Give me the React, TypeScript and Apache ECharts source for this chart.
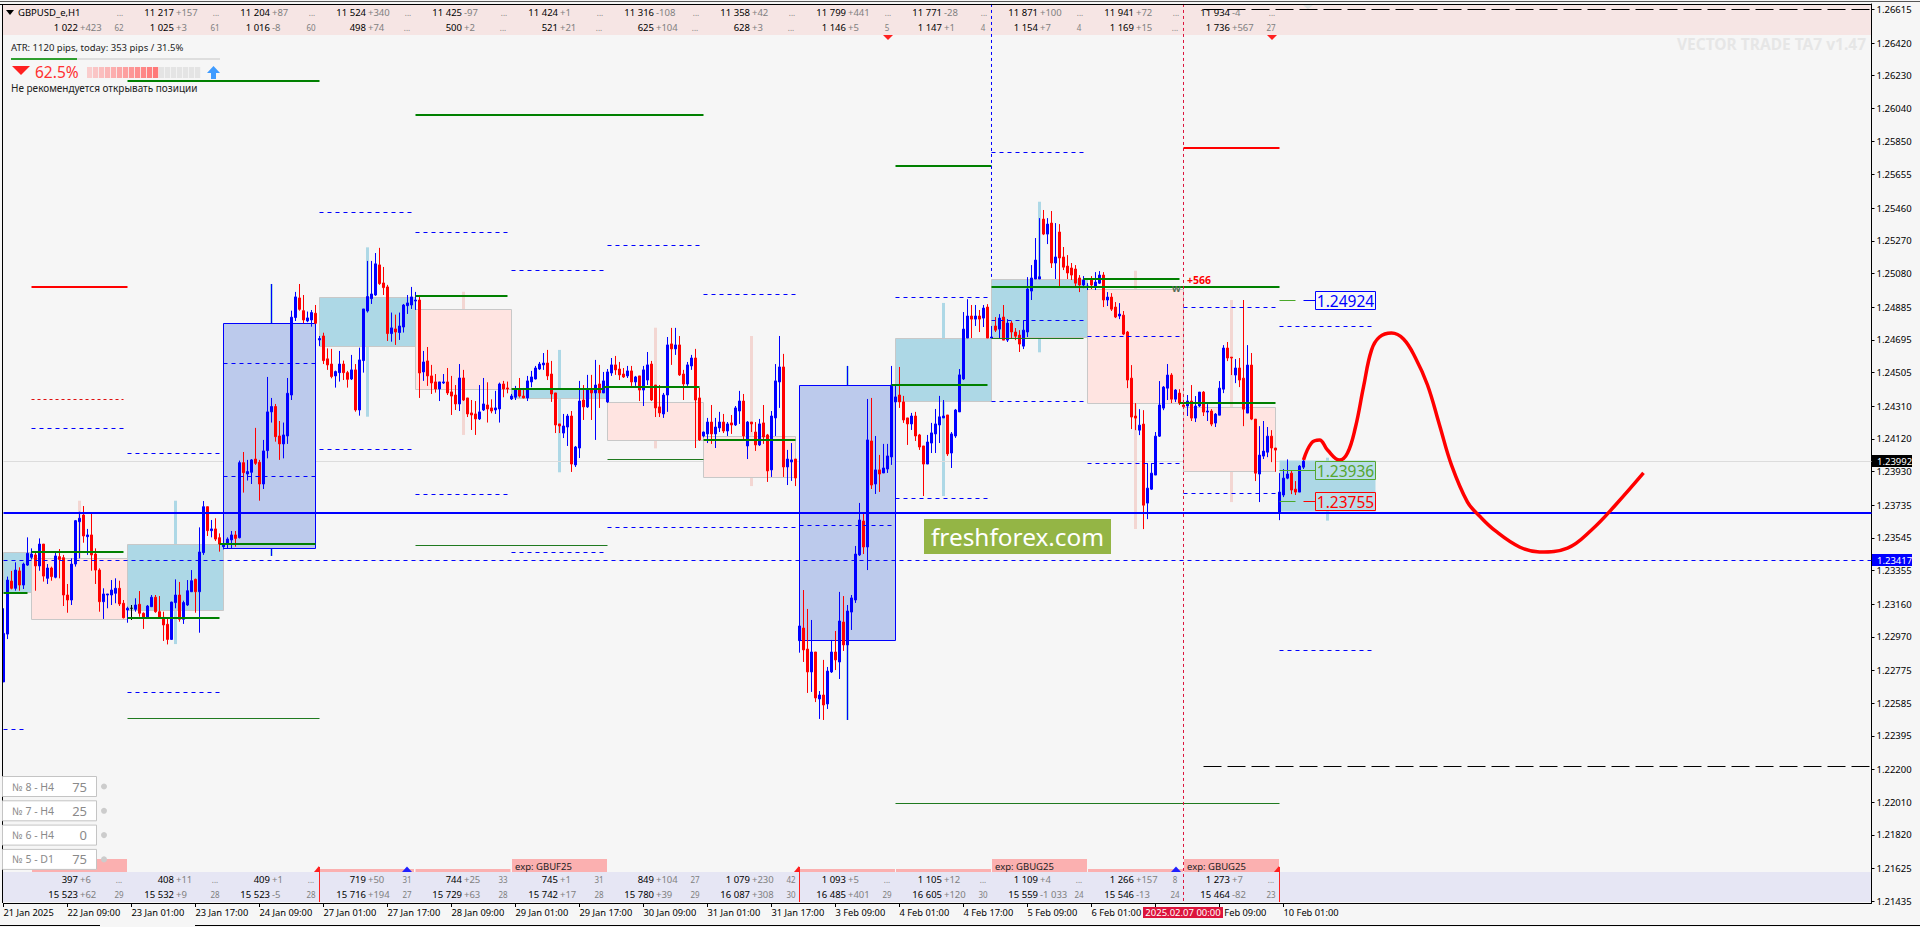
import React, { useEffect, useRef } from "react";
import * as echarts from "echarts";

// prices are written in points: 23450 = 1.23450
const candlesJan: number[][] = [
[22708,22990,22708,23136],[22986,23300,22957,23320],[23294,23252,23246,23353],[23252,23358,23238,23403],[23353,23271,23238,23374],[23271,23393,23248,23401],[23387,23455,23382,23548],[23432,23451,23420,23484],[23446,23382,23238,23459],[23382,23509,23354,23542],
[23509,23323,23291,23509],[23310,23370,23277,23393],[23370,23320,23296,23378],[23316,23440,23310,23459],[23436,23420,23310,23480],[23430,23213,23149,23446],[23213,23184,23110,23277],[23184,23393,23155,23426],[23393,23645,23378,23649],[23639,23659,23426,23697],
[23678,23556,23517,23730],[23552,23562,23446,23597],[23562,23446,23354,23688],[23451,23358,23277,23484],[23358,23174,23116,23368],[23174,23219,23074,23252],[23213,23219,23136,23219],[23213,23242,23155,23300],[23223,23252,23165,23310],[23252,23161,23149,23296],
[23165,23081,23077,23184],[23126,23136,23052,23145],[23136,23136,23068,23155],[23130,23155,23116,23194],[23159,23107,23087,23236],[23107,23083,23016,23112],[23083,23149,23077,23155],[23145,23200,23145,23213],[23200,23116,23110,23213],[23116,23083,23077,23207],
[23083,23039,22946,23116],[23043,22955,22926,23081],[22955,23172,22952,23174],[23169,23213,23136,23304],[23213,23072,23058,23289],[23072,23169,23045,23180],[23155,23238,23149,23300],[23232,23296,23232,23358],[23304,23232,23110,23308],[23232,23463,22994,23606],
[23459,23726,23446,23759],[23726,23587,23556,23726],[23587,23597,23548,23649],[23597,23538,23527,23659],[23546,23509,23465,23571],[23494,23509,23478,23523],[23509,23538,23484,23548],[23533,23562,23484,23585],[23562,23542,23494,23585],[23546,23982,23542,23994],
[23982,23924,23808,24044],[23916,23930,23878,23998],[23926,23998,23858,24003],[24003,23978,23969,24184],[23984,23858,23761,23998],[23858,24050,23829,24114],[24052,24277,24007,24480],[24277,24308,24215,24358],[24308,24133,24104,24323],[24137,24091,23998,24224],
[24091,24143,24007,24215],[24137,24385,24091,24474],[24375,24827,24346,24865],[24825,24945,24805,24974],[24939,24873,24865,25020],[24865,24811,24792,24956],[24805,24823,24798,24860],[24811,24854,24772,24869],[24850,24792,24788,24898],[24695,24703,24660,24718],
[24718,24575,24555,24737],[24585,24550,24521,24646],[24555,24482,24472,24643],[24486,24511,24418,24517],[24505,24555,24453,24631],[24555,24505,24462,24575],[24505,24466,24418,24515],[24468,24521,24462,24608],[24521,24288,24278,24555],[24288,24579,24255,24650],
[24575,24875,24505,24875],[24863,24947,24854,25154],[24935,24962,24904,25154],[24956,25137,24951,25200],[25131,25022,25015,25230],[25026,24999,24956,25119],[25003,24732,24689,25015],[24732,24765,24685,24854],[24759,24741,24666,24842],[24738,24776,24695,24854],
];
const candlesLateJan: number[][] = [
[24770,24898,24738,24904],[24894,24910,24846,24956],[24898,24945,24875,25003],[24921,24927,24869,24974],[24927,24503,24358,24947],[24509,24567,24457,24631],[24573,24486,24428,24654],[24486,24445,24381,24550],[24451,24410,24389,24497],[24410,24451,24340,24451],
[24445,24451,24439,24497],[24451,24387,24375,24532],[24393,24369,24259,24486],[24375,24323,24288,24433],[24323,24474,24282,24555],[24474,24346,24340,24521],[24358,24265,24247,24358],[24271,24259,24172,24346],[24265,24236,24143,24340],[24236,24277,24230,24433],
[24288,24323,24282,24474],[24317,24294,24215,24449],[24300,24282,24269,24350],[24288,24300,24265,24399],[24294,24439,24215,24447],[24439,24410,24362,24457],[24416,24410,24385,24453],[24352,24369,24346,24381],[24362,24410,24346,24428],[24410,24369,24360,24474],
[24369,24358,24356,24416],[24358,24457,24340,24486],[24451,24480,24420,24515],[24468,24532,24466,24544],[24526,24555,24521,24567],[24550,24561,24521,24619],[24561,24486,24462,24637],[24497,24381,24335,24573],[24387,24201,24154,24387],[24207,24195,24154,24207],
[24154,24195,24125,24265],[24189,24253,24079,24265],[24253,23974,23928,24282],[23969,24073,23957,24079],[24067,24340,24009,24457],[24346,24306,24230,24433],[24306,24410,24300,24492],[24410,24387,24230,24492],[24387,24433,24114,24579],[24439,24387,24300,24550],
[24387,24457,24387,24509],[24335,24509,24329,24526],[24503,24550,24486,24590],[24550,24521,24492,24602],[24526,24492,24462,24567],[24497,24480,24474,24532],[24486,24515,24474,24544],[24515,24451,24428,24544],[24451,24480,24428,24486],[24486,24404,24340,24486],
[24404,24521,24311,24544],[24462,24550,24433,24625],[24555,24346,24340,24573],[24433,24300,24247,24433],[24306,24271,24247,24433],[24265,24375,24242,24387],[24375,24666,24277,24712],[24672,24643,24550,24765],[24643,24666,24608,24765],[24666,24492,24486,24718],
[24497,24439,24346,24521],[24439,24550,24428,24567],[24544,24590,24521,24608],[24590,24346,24067,24643],[24358,24114,24108,24416],[24137,24160,24129,24162],[24149,24218,24096,24242],[24218,24149,24091,24317],[24149,24189,24067,24242],[24184,24218,24160,24277],
[24218,24166,24154,24265],[24166,24207,24137,24218],[24213,24201,24149,24259],[24201,24300,24195,24311],[24282,24340,24207,24399],[24340,24137,24114,24381],[24079,24218,24003,24224],[24218,24207,24160,24218],[24160,24085,24050,24218],[24085,24207,24079,24236],
[24213,24131,24091,24317],[24143,23934,23870,24149],[23940,24253,23899,24282],[24242,24457,24137,24555],[24451,24538,24300,24718],[24538,23957,23899,24614],[23957,24003,23852,24056],[23986,23998,23876,24096],[24003,23893,23846,24003],
];
const candlesFeb: number[][] = [
[22948,23033,22878,23033],[23021,22894,22824,23242],[22899,22766,22644,23132],[22766,22882,22650,23068],[22882,22615,22591,22882],[22609,22632,22493,22655],[22632,22574,22487,22836],[22580,22771,22551,22795],[22766,22882,22760,22952],[22882,22836,22777,23004],
[22824,23062,22725,23231],[23056,22923,22888,23207],[22923,23120,22913,23155],[23114,23196,23010,23213],[23184,23451,23167,23498],[23446,23649,23440,23748],[23643,23492,23451,23684],[23492,24114,23358,24352],[24108,23852,23829,24358],[23858,23940,23800,24137],
[23940,23916,23812,24027],[23922,23951,23922,24091],[23945,24021,23922,24091],[24015,24433,23969,24544],[24335,24364,24230,24433],[24375,24335,24300,24538],[24335,24230,24213,24370],[24242,24207,24085,24242],[24207,24253,24172,24271],[24253,24137,24108,24277],
[24143,24073,24056,24149],[24079,23974,23788,24079],[23974,24102,23974,24143],[24096,24155,24038,24213],[24149,24207,24038,24294],[24201,24248,24096,24370],[24242,24253,24242,24346],[24259,24033,24021,24259],[24038,24149,23951,24160],[24137,24288,24126,24294],
[24277,24492,24277,24526],[24468,24758,24462,24857],[24706,24834,24706,24932],[24834,24816,24706,24898],[24816,24834,24776,24898],[24834,24816,24741,24869],[24822,24880,24770,24898],[24886,24706,24706,24903],[24706,24712,24706,24776],[24776,24752,24741,24828],
[24758,24822,24706,24845],[24828,24694,24694,24898],[24694,24793,24683,24816],[24793,24741,24706,24805],[24741,24717,24694,24764],[24723,24671,24625,24752],[24659,24752,24642,24810],[24741,24991,24712,25060],[24979,25055,24927,25130],[25049,25159,25049,25287],
[25049,25062,25049,25403],[25397,25310,25304,25450],[25310,25368,25252,25403],[25374,25142,25113,25444],[25142,25177,25049,25374],[25322,25171,25008,25368],[25177,25118,25101,25235],[25124,25084,25049,25188],[25113,25072,25043,25142],[25107,25025,25002,25130],
[25055,25014,24973,25072],[25014,25043,24996,25066],[25004,25008,24985,25025],[25049,25014,24991,25066],[25008,25031,24985,25089],[25025,25072,25020,25095],[25072,24927,24886,25089],[24927,24944,24892,24973],[24944,24874,24863,24967],[24886,24828,24822,24915],
];
const candlesLateFeb: number[][] = [
[24834,24845,24816,24909],[24839,24729,24723,24863],[24741,24462,24415,24747],[24473,24247,24177,24549],[24253,24241,24171,24328],[24171,24200,24142,24293],[24206,23735,23596,24287],[23747,23834,23654,23979],[23828,23921,23823,23979],[23910,24136,23910,24160],
[24136,24317,24131,24456],[24299,24421,24287,24427],[24415,24491,24346,24555],[24491,24351,24328,24502],[24351,24404,24334,24409],[24386,24328,24317,24409],[24317,24307,24297,24336],[24311,24340,24253,24375],[24340,24241,24224,24433],[24241,24311,24218,24369],
[24311,24392,24305,24392],[24392,24276,24253,24398],[24276,24282,24224,24322],[24282,24206,24194,24293],[24212,24264,24189,24270],[24258,24415,24258,24456],[24409,24648,24386,24665],[24648,24590,24572,24683],[24595,24590,24491,24595],[24491,24532,24444,24584],
[24532,24462,24421,24590],[24473,24293,24194,24927],[24270,24549,24270,24665],[24549,24235,24229,24619],[24235,23921,23875,24235],[23916,24026,23753,24194],[24020,24049,24003,24224],[24043,24136,24014,24189],[24136,24067,23985,24171],[24067,24055,23929,24067],
[23695,23811,23648,23921],[23794,23892,23782,23945],[23892,23916,23886,24001],[23921,23823,23799,23939],[23828,23811,23794,23875],[23811,23962,23811,23968],[23956,23991,23945,23997],
];

const forecastCurve: number[][] = [[325,23997],[327,24096],[329,24114],[331,24055],[334,23997],[336,24038],[338,24189],[340,24422],[342,24636],[344,24712],[347,24735],[350,24700],[353,24590],[356,24433],[359,24201],[362,23968],[366,23753],[369,23672],[373,23585],[379,23492],[384,23463],[391,23486],[397,23591],[403,23736],[410,23922]];

// [first bar, last bar, upper price, lower price]
const lightBlueBoxes: number[][] = [[0,7,23463,23230],[31,55,23508,23124],[79,103,24946,24664],[127,151,24417,24356],[223,247,24706,24338],[247,271,25047,24708]];
const lastBox: number[][] = [[319,343,23996,23701]];
const pinkBoxes: number[][] = [[7,31,23430,23078],[103,127,24873,24408],[151,175,24333,24112],[175,198,24135,23897],[271,295,24989,24327],[295,318,24307,23938]];
const blueBoxes: number[][] = [[55,78,24792,23484],[199,223,24431,22950]];
// [bar, high, low]
const lightBlueWicks: number[][] = [[43,23761,22928],[67,25020,23440],[91,25233,24249],[139,24637,23926],[211,24544,22487],[235,24910,23788],[259,25498,24623],[331,24011,23645]];
const pinkWicks: number[][] = [[19,23761,23068],[115,24975,24143],[163,24766,24065],[187,24718,23846],[283,25097,23597],[307,24927,23753]];
const blueCores: number[][] = [[67,25020,23440],[211,24544,22487]];

// [first bar, last bar, price]
const greenThick: number[][] = [[31,79,26201],[103,175,26002],[223,247,25707],[7,30,23463],[0,6,23226],[31,54,23079],[54,78,23511],[103,126,24952],[127,150,24412],[150,174,24423],[175,198,24115],[222,246,24433],[247,319,25003],[270,294,25051],[294,318,24330]];
const greenThin: number[][] = [[151,175,24002],[31,79,22501],[223,319,22005],[247,270,24704],[103,151,23504]];
const blueDashed: number[][] = [[7,30,24182],[31,54,24036],[55,78,24559],[55,78,23903],[79,102,24060],[103,126,23798],[127,150,25101],[151,174,25245],[175,198,24960],[151,174,23608],[175,198,23608],[199,222,23618],[223,246,23777],[223,246,24943],[247,270,24338],[247,270,24809],[247,270,25787],[79,102,25438],[103,126,25325],[271,294,24716],[271,294,23978],[295,318,24885],[295,318,23804],[319,342,24774],[319,342,22893],[31,54,22649],[127,150,23463],[0,6,22437],[0,467,23417]];
const redThick: number[][] = [[7,31,25003],[295,319,25810]];
const redDashed: number[][] = [[7,30,24350]];
const limeTicks: number[][] = [[319,323,24925],[319,328,23938],[319,323,23757]];
const blueLead: number[][] = [[325,328,24925]];
const redLead: number[][] = [[325,328,23757]];
const blackDashed: number[][] = [[300,467,26615],[300,467,22217]];
const supportLine: number[][] = [[0,467,23691]];
const currentPriceLine: number[][] = [[0,467,23992]];
// [bar, upper price, lower price]
const blueVertical: number[][] = [[247,26647,25047]];
const redVertical: number[][] = [[295,26647,21430]];

const priceTags = [
  { bar: 328, price: 24925, text: "1.24924", color: "#0000ff" },
  { bar: 328, price: 23938, text: "1.23936", color: "#55a630" },
  { bar: 328, price: 23757, text: "1.23755", color: "#ff0000" },
];
const axisTags = [
  { price: 23992, text: "1.23992", color: "#000000" },
  { price: 23417, text: "1.23417", color: "#0000ff" },
];

const yTicks = [26615,26420,26230,26040,25850,25655,25460,25270,25080,24885,24695,24505,24310,24120,23930,23735,23545,23355,23160,22970,22775,22585,22395,22200,22010,21820,21625,21435];
// one tick's label sits under the highlighted date and the next is partly covered by it, as in the terminal
const timeLabels = ["21 Jan 2025","22 Jan 09:00","23 Jan 01:00","23 Jan 17:00","24 Jan 09:00","27 Jan 01:00","27 Jan 17:00","28 Jan 09:00","29 Jan 01:00","29 Jan 17:00","30 Jan 09:00","31 Jan 01:00","31 Jan 17:00","3 Feb 09:00","4 Feb 01:00","4 Feb 17:00","5 Feb 09:00","6 Feb 01:00","","\u00a0\u00a0Feb 09:00","10 Feb 01:00"];

const topRow1 = [["11 217","+157"],["11 204","+87"],["11 524","+340"],["11 425","-97"],["11 424","+1"],["11 316","-108"],["11 358","+42"],["11 799","+441"],["11 771","-28"],["11 871","+100"],["11 941","+72"],["11 934","-4"]];
const topRow2 = [["1 022","+423"],["1 025","+3"],["1 016","-8"],["498","+74"],["500","+2"],["521","+21"],["625","+104"],["628","+3"],["1 146","+5"],["1 147","+1"],["1 154","+7"],["1 169","+15"],["1 736","+567"]];
const topSmall2 = ["62","61","60","...","...","...","...","...","5","4","4","...","27"];
const bottomRow1 = [["397","+6"],["408","+11"],["409","+1"],["719","+50"],["744","+25"],["745","+1"],["849","+104"],["1 079","+230"],["1 093","+5"],["1 105","+12"],["1 109","+4"],["1 266","+157"],["1 273","+7"]];
const bottomSmall1 = ["...","...","...","31","33","31","27","42","...","...","...","8","..."];
const bottomRow2 = [["15 523","+62"],["15 532","+9"],["15 523","-5"],["15 716","+194"],["15 729","+63"],["15 742","+17"],["15 780","+39"],["16 087","+308"],["16 485","+401"],["16 605","+120"],["15 559","-1 033"],["15 546","-13"],["15 464","-82"]];
const bottomSmall2 = ["29","28","28","27","28","28","29","30","29","30","24","24","23"];
const buttons = [["№ 8 - H4","75"],["№ 7 - H4","25"],["№ 6 - H4","0"],["№ 5 - D1","75"]];

const FONT = '"Noto Sans"';
const P = (n: number) => 1 + n / 100000;
const candles = [...candlesJan, ...candlesLateJan, ...candlesFeb, ...candlesLateFeb];
const BARS = 468;
const categories = Array.from({ length: BARS }, (_, i) => (i % 16 === 0 && timeLabels[i / 16]) || "");
const isTimeTick = (i: number) => i % 16 === 0 && i <= 320;

function segSeries(rows: number[][], stroke: string, width: number, z: number, dash?: number[]) {
  return {
    type: "custom", z, silent: true, clip: false, animation: false,
    data: rows.map((r) => [r[0], P(r[2])]),
    renderItem: (p: any, api: any) => {
      const r = rows[p.dataIndex];
      const a = api.coord([r[0], P(r[2])]);
      const b = api.coord([r[1], P(r[2])]);
      const off = width % 2 ? 0.5 : 0;
      const y = Math.round(a[1]) + off;
      return { type: "line", shape: { x1: a[0], y1: y, x2: b[0], y2: y }, style: { stroke, lineWidth: width, lineDash: dash, fill: null } };
    },
  };
}
function vertSeries(rows: number[][], stroke: string, width: number, z: number, dash?: number[]) {
  return {
    type: "custom", z, silent: true, clip: false,
    data: rows.map((r) => [r[0], P(r[1])]),
    renderItem: (p: any, api: any) => {
      const r = rows[p.dataIndex];
      const a = api.coord([r[0], P(r[1])]);
      const b = api.coord([r[0], P(r[2])]);
      const x = Math.floor(a[0]) + 0.5;
      return { type: "line", shape: { x1: x, y1: a[1], x2: x, y2: b[1] }, style: { stroke, lineWidth: width, lineDash: dash, fill: null } };
    },
  };
}
function boxSeries(rows: number[][], fill: string, stroke: string | null, width: number, z: number) {
  return {
    type: "custom", z, silent: true, clip: false,
    data: rows.map((r) => [r[0], P(r[2])]),
    renderItem: (p: any, api: any) => {
      const r = rows[p.dataIndex];
      const a = api.coord([r[0], P(r[2])]);
      const b = api.coord([r[1], P(r[3])]);
      return {
        type: "rect",
        shape: { x: Math.floor(a[0]) + 0.5, y: Math.round(a[1]) + 0.5, width: Math.round(b[0] - a[0]), height: Math.round(b[1] - a[1]) },
        style: { fill, stroke: stroke || undefined, lineWidth: stroke ? width : 0 },
      };
    },
  };
}

function txt(x: number, y: number, text: string, fill: string, font: string, align = "left", z = 2) {
  return { type: "text", x, y, z, silent: true, style: { text, fill, font: `${font} ${FONT}`, align, verticalAlign: "middle" } };
}
function rct(x: number, y: number, w: number, h: number, fill: string, z = 0, stroke?: string) {
  return { type: "rect", z, silent: true, shape: { x, y, width: w, height: h }, style: { fill, stroke, lineWidth: stroke ? 1 : 0 } };
}
function tri(points: number[][], fill: string, z = 3) {
  return { type: "polygon", z, silent: true, shape: { points }, style: { fill } };
}
function ln(x1: number, y1: number, x2: number, y2: number, stroke: string, lineWidth = 1, z = 6) {
  return { type: "line", z, silent: true, shape: { x1, y1, x2, y2 }, style: { stroke, lineWidth } };
}

function buildGraphics() {
  const g: any[] = [];
  // window frame
  g.push(ln(0, 1.5, 1920, 1.5, "#555555"), ln(0, 4.5, 1871, 4.5, "#000000"), ln(2.5, 4, 2.5, 903, "#000000"));
  g.push(ln(0, 925.5, 100, 925.5, "#000000"), ln(195, 925.5, 1920, 925.5, "#000000"));
  // strips
  g.push(rct(3, 5, 1868, 30, "#f6e5e4"), rct(3, 872, 1868, 30, "#e6e6f4"));
  const num = "9.5px", small = "8px";
  const BLACK = "#000000", GRAY = "#808080";
  g.push(txt(18, 12.5, "GBPUSD_e,H1", BLACK, num), tri([[6, 10], [14, 10], [10, 15]], BLACK));
  topRow1.forEach((c, k) => {
    g.push(txt(174 + 96 * k, 12.5, c[0], BLACK, num, "right"), txt(176 + 96 * k, 12.5, c[1], GRAY, num));
  });
  for (let k = 0; k < 13; k++) g.push(txt(120 + 96 * k, 12.5, "...", GRAY, small, "center"));
  topRow2.forEach((c, k) => {
    g.push(txt(78 + 96 * k, 27.5, c[0], BLACK, num, "right"), txt(80 + 96 * k, 27.5, c[1], GRAY, num));
    g.push(txt(119 + 96 * k, 27.5, topSmall2[k], GRAY, small, "center"));
  });
  bottomRow1.forEach((c, k) => {
    g.push(txt(78 + 96 * k, 879.5, c[0], BLACK, num, "right"), txt(80 + 96 * k, 879.5, c[1], GRAY, num));
    g.push(txt(119 + 96 * k, 879.5, bottomSmall1[k], GRAY, small, "center"));
  });
  bottomRow2.forEach((c, k) => {
    g.push(txt(78 + 96 * k, 894.5, c[0], BLACK, num, "right"), txt(80 + 96 * k, 894.5, c[1], GRAY, num));
    g.push(txt(119 + 96 * k, 894.5, bottomSmall2[k], GRAY, small, "center"));
  });
  // top-left panel
  g.push(txt(11, 47.5, "ATR: 1120 pips, today: 353 pips / 31.5%", "#222222", "9.5px"));
  g.push(rct(11, 58, 209, 2, "#dedede", 1), rct(11, 58, 66, 2, "#2e9e2e", 1));
  g.push(tri([[12, 66], [30, 66], [21, 75]], "#ff2020"));
  g.push(txt(35, 72, "62.5%", "#ff3030", "15.5px"));
  for (let k = 0; k < 19; k++) {
    const on = k < 12;
    const t = k / 11;
    const col = on ? `rgb(${Math.round(250 + 5 * t)},${Math.round(205 - 85 * t)},${Math.round(205 - 85 * t)})` : "#e4e4e4";
    g.push(rct(87 + k * 6, 67, 5.2, 11, col, 1));
  }
  g.push(tri([[207, 73], [213.5, 66], [220, 73], [216, 73], [216, 79], [211, 79], [211, 73]], "#3f9bff"));
  g.push(txt(11, 88, "Не рекомендуется открывать позиции", "#222222", "10px"));
  // watermark
  g.push(txt(1866, 44, "VECTOR TRADE TA7 v1.47", "#e6e6e6", "bold 15.5px", "right"));
  // logo
  g.push(rct(924, 519, 187, 35, "#94b545", 1));
  g.push(txt(1017.5, 536.5, "freshforex.com", "#ffffff", "24.4px", "center", 2));
  // strip markers
  [888, 1272].forEach((x) => g.push(tri([[x - 5, 35], [x + 5, 35], [x, 40]], "#ff2020")));
  g.push(tri([[1303, 5], [1313, 5], [1308, 9.5]], "#dcdcdc"));
  // expiry tabs
  [[320, 94], [415.5, 95], [800, 95], [896, 95], [1088, 95]].forEach((r) => g.push(rct(r[0], 869, r[1], 3, "#fbb0b0", 1)));
  g.push(rct(32, 859, 95, 13, "#fbb0b0", 1));
  ([[512, "exp: GBUF25"], [992, "exp: GBUG25"], [1184, "exp: GBUG25"]] as [number, string][]).forEach((r) => {
    g.push(rct(r[0], 859, 95, 13, "#fbb0b0", 1), txt(r[0] + 3, 866, r[1], "#222222", num));
  });
  [319, 799, 1279].forEach((x) => {
    g.push(ln(x + 0.5, 867, x + 0.5, 902, "#ff2020", 1, 3), tri([[x - 5, 872], [x, 866], [x + 1, 872]], "#ff2020"));
  });
  [407, 1176].forEach((x) => g.push(tri([[x - 5, 872], [x, 866.5], [x + 5, 872]], "#2020ff")));
  // buttons
  buttons.forEach((b, k) => {
    const y = 776.5 + k * 24.3;
    g.push(rct(2.5, y, 94, 20, "#ffffff", 20, "#c4c4c4"));
    g.push(txt(12, y + 10, b[0], "#8a8a8a", "10.5px", "left", 21), txt(87, y + 10, b[1], "#8a8a8a", "13px", "right", 21));
    g.push({ type: "circle", z: 21, silent: true, shape: { cx: 104, cy: y + 10, r: 3 }, style: { fill: "#cccccc" } });
  });
  // time highlight
  g.push(rct(1143, 907, 80, 11, "#dc143c", 50), txt(1183, 912.5, "2025.02.07 00:00", "#ffffff", num, "center", 51));
  // annotations
  g.push(txt(1187, 280, "+566", "#ff0000", "bold 10.5px"), txt(1172, 288, "W", "#556b55", "bold 9px", "left", 8));
  return g;
}

export default function App() {
  const ref = useRef<HTMLDivElement>(null);
  useEffect(() => {
    const chart = echarts.init(ref.current!, null, { renderer: "svg" });
    chart.setOption({
      animation: false,
      backgroundColor: "#f6f6f6",
      grid: { left: 3.5, right: 48.5, top: 4, bottom: 24, containLabel: false },
      xAxis: {
        type: "category", data: categories, boundaryGap: false,
        axisLine: { show: true, lineStyle: { color: "#000", width: 1 } },
        axisTick: { show: true, alignWithLabel: true, interval: (i: number) => isTimeTick(i), length: 4, lineStyle: { color: "#000" } },
        axisLabel: { interval: (i: number) => isTimeTick(i), align: "left", margin: 5, color: "#000", fontFamily: FONT, fontSize: 9.3, hideOverlap: false },
        splitLine: { show: false },
      },
      yAxis: {
        type: "value", position: "right", min: P(21423.6), max: P(26646.8), scale: true,
        axisLine: { show: true, onZero: false, lineStyle: { color: "#000", width: 1 } },
        axisTick: { show: true, length: 3, lineStyle: { color: "#000" }, customValues: yTicks.map(P) },
        axisLabel: { customValues: yTicks.map(P), formatter: (v: number) => v.toFixed(5), color: "#000", fontFamily: FONT, fontSize: 9.5, margin: 5, showMinLabel: true, showMaxLabel: true },
        splitLine: { show: false },
      },
      graphic: buildGraphics(),
      series: [
        vertSeries(lightBlueWicks, "#add8e6", 3, 1),
        vertSeries(pinkWicks, "#f3d6d2", 3, 1),
        vertSeries(blueCores, "#0000ff", 1, 1.1),
        segSeries(currentPriceLine, "#dcdcdc", 1, 1.2),
        boxSeries(lightBlueBoxes, "#add8e6", "#c8c8c8", 1, 1.3),
        boxSeries(lastBox, "#add8e6", null, 0, 1.3),
        boxSeries(pinkBoxes, "#ffe4e1", "#c8c8c8", 1, 1.3),
        boxSeries(blueBoxes, "#bccaec", "#0000ff", 1, 1.3),
        {
          type: "candlestick", z: 2, barWidth: 2, silent: true,
          data: candles.map((c) => c.map(P)),
          itemStyle: { color: "#0000ff", color0: "#ff0000", borderColor: "#0000ff", borderColor0: "#ff0000", borderColorDoji: "#000000", borderWidth: 1 },
        },
        segSeries(blueDashed, "#0000ff", 1, 3, [4, 4]),
        segSeries(redDashed, "#e01010", 1, 3, [3, 3]),
        segSeries(greenThin, "#1f7a1f", 1, 3),
        segSeries(limeTicks, "#4aa82a", 1, 3),
        segSeries(blueLead, "#0000ff", 1, 3),
        segSeries(redLead, "#ff0000", 1, 3),
        segSeries(greenThick, "#008000", 2, 3),
        segSeries(redThick, "#ff0000", 2, 3),
        segSeries(blackDashed, "#000000", 1, 3, [18, 6]),
        segSeries(supportLine, "#0000ff", 2, 3),
        vertSeries(blueVertical, "#0000ff", 1, 3, [3, 3]),
        vertSeries(redVertical, "#dc143c", 1, 3, [3, 3]),
        {
          type: "line", z: 4, silent: true, showSymbol: false, smooth: 0.4,
          data: forecastCurve.map((d) => [d[0], P(d[1])]),
          lineStyle: { color: "#ff0000", width: 3.5 },
        },
        {
          type: "custom", z: 5, silent: true, clip: false,
          data: priceTags.map((t) => [t.bar, P(t.price)]),
          renderItem: (p: any, api: any) => {
            const t = priceTags[p.dataIndex];
            const c = api.coord([t.bar, P(t.price)]);
            const x = Math.floor(c[0]) + 0.5, y = Math.round(c[1]);
            return {
              type: "group",
              children: [
                { type: "rect", shape: { x, y: y - 8.5, width: 60, height: 18 }, style: { fill: "rgba(255,255,255,0.15)", stroke: t.color, lineWidth: 1 } },
                { type: "text", style: { text: t.text, x: x + 30, y: y + 0.5, fill: t.color, font: `15.5px ${FONT}`, align: "center", verticalAlign: "middle" } },
              ],
            };
          },
        },
        {
          type: "custom", z: 6, silent: true, clip: false,
          data: axisTags.map((t) => [0, P(t.price)]),
          renderItem: (p: any, api: any) => {
            const t = axisTags[p.dataIndex];
            const c = api.coord([0, P(t.price)]);
            const y = Math.round(c[1]);
            return {
              type: "group",
              children: [
                { type: "rect", shape: { x: 1872, y: y - 6, width: 40, height: 12 }, style: { fill: t.color } },
                { type: "text", style: { text: t.text, x: 1877, y: y + 0.5, fill: "#ffffff", font: `9.5px ${FONT}`, align: "left", verticalAlign: "middle" } },
              ],
            };
          },
        },
      ],
    });
    return () => chart.dispose();
  }, []);
  return <div ref={ref} style={{ position: "fixed", left: 0, top: 0, width: 1920, height: 927 }} />;
}
